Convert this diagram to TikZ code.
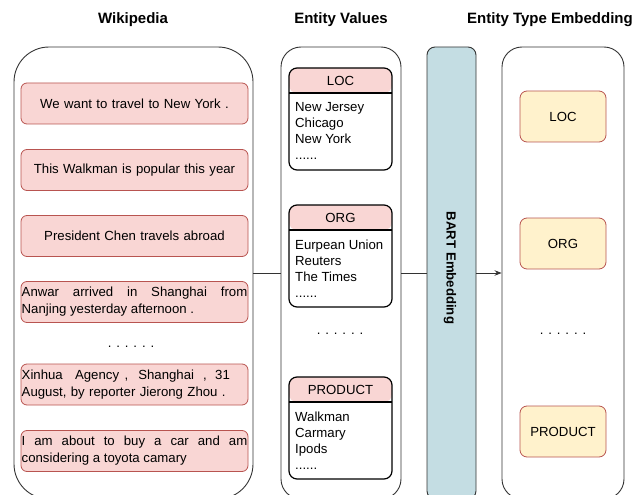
\documentclass[tikz,border=0pt]{standalone}
\usepackage{fontspec}
\setmainfont{Liberation Sans}
\usetikzlibrary{arrows.meta}
\definecolor{wikifill}{RGB}{249,214,212}
\definecolor{redline}{HTML}{B85450}
\definecolor{typefill}{HTML}{FFF2CC}
\definecolor{bartfill}{RGB}{196,221,227}
\definecolor{frame}{HTML}{333333}

\begin{document}
\begin{tikzpicture}[x=1pt,y=-1pt,
  title/.style={font=\fontsize{15}{18}\selectfont\bfseries, inner sep=0pt},
  body/.style={font=\fontsize{13.2}{17}\selectfont},
  column/.style={draw=frame, line width=0.9pt, minimum height=452pt, inner sep=0pt},
  sentence/.style={draw=redline, fill=wikifill, line width=0.8pt, rounded corners=6pt,
    minimum width=227pt, minimum height=41pt, inner xsep=0.7pt, inner ysep=0pt,
    text width=225.6pt, body},
  card/.style={draw=black, line width=1.2pt, fill=white, rounded corners=8pt,
    minimum width=103pt, minimum height=102pt, inner sep=0pt,
    path picture={
      \fill[wikifill] (path picture bounding box.north west) rectangle
        ([yshift=-25pt]path picture bounding box.north east);
      \draw[line width=1.2pt] ([yshift=-25pt]path picture bounding box.north west) --
        ([yshift=-25pt]path picture bounding box.north east);}},
  cardhead/.style={font=\fontsize{13.2}{16}\selectfont, inner sep=0pt},
  cardlist/.style={font=\fontsize{13.2}{16}\selectfont, align=left, inner sep=0pt, anchor=north west},
  typebox/.style={draw=redline, fill=typefill, line width=0.8pt, rounded corners=7pt,
    minimum width=86pt, minimum height=51pt, inner sep=0pt, font=\fontsize{13.2}{16}\selectfont},
  gap/.style={font=\fontsize{13.2}{16}\selectfont, inner sep=0pt, anchor=base},
  conn/.style={draw=frame, line width=0.9pt},
]
\useasboundingbox (0,0) rectangle (633,495);
\clip (0,0) rectangle (633,495);

% column titles
\node[title] (t1) at (133,20) {Wikipedia};
\node[title] (t2) at (341,20) {Entity Values};
\node[title] (t3) at (550,20) {Entity Type Embedding};

% the four columns
\node[column, rounded corners=35pt, minimum width=239pt] (wiki) at (133.5,273) {};
\node[column, rounded corners=20pt, minimum width=120pt] (vals) at (341,273) {};
\node[column, rounded corners=8pt, minimum width=49pt, fill=bartfill] (bart) at (451.5,273) {};
\node[column, rounded corners=20pt, minimum width=122pt] (types) at (563,273) {};
\node[font=\fontsize{13.2}{16}\selectfont\bfseries, rotate=-90, inner sep=0pt] (bartlabel) at (450,268) {BART Embedding};

% Wikipedia sentences
\node[sentence, align=center] (s1) at (134.5,103.5) {We want to travel to New York .};
\node[sentence, align=center] (s2) at (134.5,170) {This Walkman is popular this year};
\node[sentence, align=center] (s3) at (134.5,236) {President Chen travels abroad};
\node[sentence, align=justify] (s4) at (134.5,302) {Anwar arrived in Shanghai from\linebreak Nanjing yesterday afternoon .};
\node[gap] (d1) at (131,347.5) {. . . . . .};
\node[sentence, align=left] (s5) at (134.5,384.5) {Xinhua\hspace{12.3pt}Agency\hspace{5.5pt},\hspace{10pt}Shanghai\hspace{9pt},\hspace{8.5pt}31\\August, by reporter Jierong Zhou .};
\node[sentence, align=justify] (s6) at (134.5,451) {I am about to buy a car and am\linebreak considering a toyota camary};

% entity value cards
\node[card] (cloc) at (340.5,119) {};
\node[cardhead] (hloc) at (340.5,80.5) {LOC};
\node[cardlist] (lloc) at (295,102.5) {New Jersey\\Chicago\\New York\\......};

\node[card] (corg) at (340.5,256) {};
\node[cardhead] (horg) at (340.5,217.5) {ORG};
\node[cardlist] (lorg) at (295,239.5) {Eurpean Union\\Reuters\\The Times\\......};

\node[gap] (d2) at (340,334.5) {. . . . . .};

\node[card] (cprod) at (340.5,428) {};
\node[cardhead] (hprod) at (340.5,389.5) {PRODUCT};
\node[cardlist] (lprod) at (295,411.5) {Walkman\\Carmary\\Ipods\\......};

% entity type embeddings
\node[typebox] (eloc) at (563,116.5) {LOC};
\node[typebox] (eorg) at (563,243.5) {ORG};
\node[gap] (d3) at (563,334.5) {. . . . . .};
\node[typebox] (eprod) at (563,431.5) {PRODUCT};

% connectors
\draw[conn] (wiki.east) -- (vals.west);
\draw[conn] (vals.east) -- (bart.west);
\draw[conn, -{Stealth[length=7pt,width=5.5pt]}] (bart.east) -- (types.west);
\end{tikzpicture}
\end{document}
